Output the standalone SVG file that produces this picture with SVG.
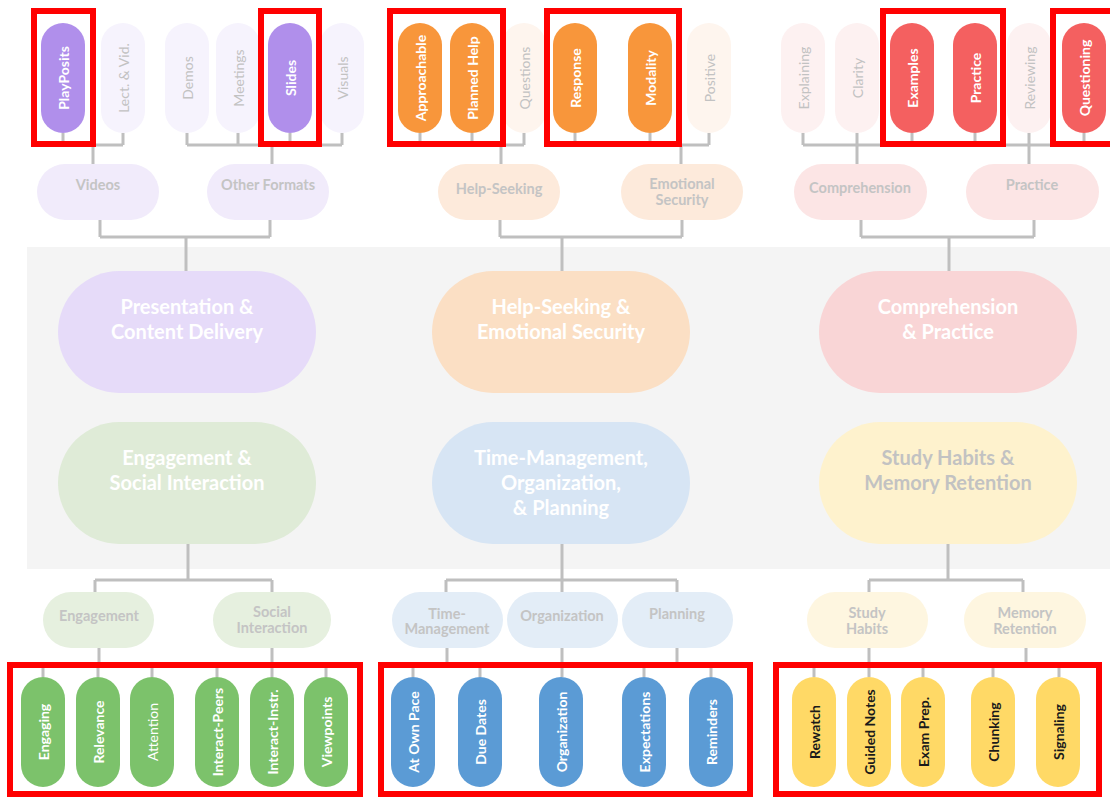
<svg xmlns="http://www.w3.org/2000/svg" width="1110" height="798" viewBox="0 0 1110 798">
  <style>
    .ln { stroke: #BFBFBF; stroke-width: 3; fill: none; }
    .hl { fill: none; stroke: #FF0000; stroke-width: 6; }
    text { font-family: Lato, "Open Sans", "Liberation Sans", sans-serif; text-anchor: middle; dominant-baseline: central; }
    .vt { font-size: 14px; font-weight: 700; fill: #FFFFFF; }
    .vt.dark { fill: #1A1A1A; }
    .vt.faint { font-weight: 400; fill: #C2C2C2; }
    .vt.thin { font-weight: 400; }
    .mt { font-size: 14.5px; font-weight: 700; fill: #C4C4C4; }
    .bt { font-size: 20px; font-weight: 700; fill: #FFFFFF; }
    .bt.grey { fill: #C2C2C2; }
    .pu { fill: #B08FEB; } .pu1 { fill: #F6F3FD; } .pu2 { fill: #F1EBFB; } .pu3 { fill: #E6DBF9; }
    .or { fill: #F8963B; } .or1 { fill: #FEF5EE; } .or2 { fill: #FDEADB; } .or3 { fill: #FBDFC4; }
    .rd { fill: #F46060; } .rd1 { fill: #FDF1F1; } .rd2 { fill: #FCE5E5; } .rd3 { fill: #F9D5D6; }
    .gr { fill: #7CC26B; } .gr2 { fill: #E6F0DF; } .gr3 { fill: #DFEBD7; }
    .bl { fill: #5B9BD5; } .bl2 { fill: #E3EDF7; } .bl3 { fill: #D7E5F4; }
    .ye { fill: #FFD966; } .ye2 { fill: #FEF6E0; } .ye3 { fill: #FEF2CD; }
  </style>

  <!-- band behind the six theme nodes -->
  <rect x="27" y="247" width="1083" height="322" fill="#F4F4F4"/>

  <!-- connectors -->
  <g id="connectors" class="ln">
    <!-- top leaves to sub-themes -->
    <path d="M63 133V145M123 133V145M63 145H123M93 145V164"/>
    <path d="M187 133V145M238 133V145M290 133V145M342 133V145M187 145H342M272 145V164"/>
    <path d="M420 133V145M472 133V145M524 133V145M420 145H524M501 145V164"/>
    <path d="M575 133V145M650 133V145M709 133V145M575 145H709M681 145V164"/>
    <path d="M803 133V145M857 133V145M912 133V145M803 145H912M857 145V164"/>
    <path d="M975 133V145M1029 133V145M1084 133V145M975 145H1084M1029 145V164"/>
    <!-- sub-themes to top themes -->
    <path d="M100 220V237M270 220V237M100 237H270M186 237V271"/>
    <path d="M500 220V237M682 220V237M500 237H682M562 237V271"/>
    <path d="M861 220V237M1034 220V237M861 237H1034M949 237V271"/>
    <!-- bottom themes to sub-themes -->
    <path d="M188 544V580M95 580H272M95 580V592M272 580V592"/>
    <path d="M562 544V592M446 580H677M446 580V592M677 580V592"/>
    <path d="M948 544V580M869 580H1023M869 580V592M1023 580V592"/>
    <!-- sub-themes to bottom leaves -->
    <path d="M99 648V665M43 665H152M43 665V677M98 665V677M152 665V677"/>
    <path d="M272 648V665M217 665H326M217 665V677M272 665V677M326 665V677"/>
    <path d="M447 648V665M413 665H480M413 665V677M480 665V677"/>
    <path d="M562 648V677"/>
    <path d="M677 648V665M644 665H711M644 665V677M711 665V677"/>
    <path d="M869 648V665M814 665H923M814 665V677M869 665V677M923 665V677"/>
    <path d="M1026 648V665M993 665H1059M993 665V677M1059 665V677"/>
  </g>

  <!-- top leaves -->
  <g id="playposits"><rect class="pu" x="41" y="23" width="44" height="110" rx="22"/><text class="vt" transform="translate(63 78) rotate(-90)">PlayPosits</text></g>
  <g id="lect-vid"><rect class="pu1" x="101" y="23" width="44" height="110" rx="22"/><text class="vt faint" transform="translate(123 78) rotate(-90)">Lect. &amp; Vid.</text></g>
  <g id="demos"><rect class="pu1" x="165" y="23" width="44" height="110" rx="22"/><text class="vt faint" transform="translate(187 78) rotate(-90)">Demos</text></g>
  <g id="meetings"><rect class="pu1" x="216" y="23" width="44" height="110" rx="22"/><text class="vt faint" transform="translate(238 78) rotate(-90)">Meetings</text></g>
  <g id="slides"><rect class="pu" x="268" y="23" width="44" height="110" rx="22"/><text class="vt" transform="translate(290 78) rotate(-90)">Slides</text></g>
  <g id="visuals"><rect class="pu1" x="320" y="23" width="44" height="110" rx="22"/><text class="vt faint" transform="translate(342 78) rotate(-90)">Visuals</text></g>

  <g id="approachable"><rect class="or" x="398" y="23" width="44" height="110" rx="22"/><text class="vt" transform="translate(420 78) rotate(-90)">Approachable</text></g>
  <g id="planned-help"><rect class="or" x="450" y="23" width="44" height="110" rx="22"/><text class="vt" transform="translate(472 78) rotate(-90)">Planned Help</text></g>
  <g id="questions"><rect class="or1" x="502" y="23" width="44" height="110" rx="22"/><text class="vt faint" transform="translate(524 78) rotate(-90)">Questions</text></g>
  <g id="response"><rect class="or" x="553" y="23" width="44" height="110" rx="22"/><text class="vt" transform="translate(575 78) rotate(-90)">Response</text></g>
  <g id="modality"><rect class="or" x="628" y="23" width="44" height="110" rx="22"/><text class="vt" transform="translate(650 78) rotate(-90)">Modality</text></g>
  <g id="positive"><rect class="or1" x="687" y="23" width="44" height="110" rx="22"/><text class="vt faint" transform="translate(709 78) rotate(-90)">Positive</text></g>

  <g id="explaining"><rect class="rd1" x="781" y="23" width="44" height="110" rx="22"/><text class="vt faint" transform="translate(803 78) rotate(-90)">Explaining</text></g>
  <g id="clarity"><rect class="rd1" x="835" y="23" width="44" height="110" rx="22"/><text class="vt faint" transform="translate(857 78) rotate(-90)">Clarity</text></g>
  <g id="examples"><rect class="rd" x="890" y="23" width="44" height="110" rx="22"/><text class="vt" transform="translate(912 78) rotate(-90)">Examples</text></g>
  <g id="practice-leaf"><rect class="rd" x="953" y="23" width="44" height="110" rx="22"/><text class="vt" transform="translate(975 78) rotate(-90)">Practice</text></g>
  <g id="reviewing"><rect class="rd1" x="1007" y="23" width="44" height="110" rx="22"/><text class="vt faint" transform="translate(1029 78) rotate(-90)">Reviewing</text></g>
  <g id="questioning"><rect class="rd" x="1062" y="23" width="44" height="110" rx="22"/><text class="vt" transform="translate(1084 78) rotate(-90)">Questioning</text></g>

  <!-- top sub-themes -->
  <g id="videos"><rect class="pu2" x="37" y="164" width="122" height="56" rx="28"/><text class="mt" x="98" y="184">Videos</text></g>
  <g id="other-formats"><rect class="pu2" x="207" y="164" width="122" height="56" rx="28"/><text class="mt" x="268" y="184">Other Formats</text></g>
  <g id="help-seeking"><rect class="or2" x="438" y="164" width="122" height="56" rx="28"/><text class="mt" x="499" y="188">Help-Seeking</text></g>
  <g id="emotional-security"><rect class="or2" x="621" y="164" width="122" height="56" rx="28"/><text class="mt" x="682" y="183.5">Emotional<tspan x="682" dy="15">Security</tspan></text></g>
  <g id="comprehension"><rect class="rd2" x="794" y="164" width="133" height="56" rx="28"/><text class="mt" x="860" y="187">Comprehension</text></g>
  <g id="practice-sub"><rect class="rd2" x="966" y="164" width="133" height="56" rx="28"/><text class="mt" x="1032" y="184">Practice</text></g>

  <!-- themes -->
  <g id="presentation"><rect class="pu3" x="58" y="271" width="258" height="122" rx="61"/><text class="bt" x="187" y="306">Presentation &amp;<tspan x="187" dy="25">Content Delivery</tspan></text></g>
  <g id="help-emotional"><rect class="or3" x="432" y="271" width="258" height="122" rx="61"/><text class="bt" x="561" y="306">Help-Seeking &amp;<tspan x="561" dy="25">Emotional Security</tspan></text></g>
  <g id="comprehension-practice"><rect class="rd3" x="819" y="271" width="258" height="122" rx="61"/><text class="bt" x="948" y="306">Comprehension<tspan x="948" dy="25">&amp; Practice</tspan></text></g>
  <g id="engagement-social"><rect class="gr3" x="58" y="422" width="258" height="122" rx="61"/><text class="bt" x="187" y="457">Engagement &amp;<tspan x="187" dy="25">Social Interaction</tspan></text></g>
  <g id="time-org-planning"><rect class="bl3" x="432" y="422" width="258" height="122" rx="61"/><text class="bt" x="561" y="457">Time-Management,<tspan x="561" dy="25">Organization,</tspan><tspan x="561" dy="25">&amp; Planning</tspan></text></g>
  <g id="study-memory"><rect class="ye3" x="819" y="422" width="258" height="122" rx="61"/><text class="bt grey" x="948" y="457">Study Habits &amp;<tspan x="948" dy="25">Memory Retention</tspan></text></g>

  <!-- bottom sub-themes -->
  <g id="engagement"><rect class="gr2" x="43" y="592" width="111" height="56" rx="28"/><text class="mt" x="99" y="615">Engagement</text></g>
  <g id="social-interaction"><rect class="gr2" x="213" y="592" width="118" height="56" rx="28"/><text class="mt" x="272" y="611.5">Social<tspan x="272" dy="15">Interaction</tspan></text></g>
  <g id="time-management"><rect class="bl2" x="392" y="592" width="111" height="56" rx="28"/><text class="mt" x="447" y="613">Time-<tspan x="447" dy="15">Management</tspan></text></g>
  <g id="organization-sub"><rect class="bl2" x="507" y="592" width="111" height="56" rx="28"/><text class="mt" x="562" y="615">Organization</text></g>
  <g id="planning"><rect class="bl2" x="622" y="592" width="111" height="56" rx="28"/><text class="mt" x="677" y="613">Planning</text></g>
  <g id="study-habits"><rect class="ye2" x="807" y="592" width="121" height="56" rx="28"/><text class="mt" x="867" y="612.5">Study<tspan x="867" dy="15">Habits</tspan></text></g>
  <g id="memory-retention"><rect class="ye2" x="964" y="592" width="122" height="56" rx="28"/><text class="mt" x="1025" y="612.5">Memory<tspan x="1025" dy="15">Retention</tspan></text></g>

  <!-- bottom leaves -->
  <g id="engaging"><rect class="gr" x="21" y="677" width="44" height="110" rx="22"/><text class="vt" transform="translate(43 732) rotate(-90)">Engaging</text></g>
  <g id="relevance"><rect class="gr" x="76" y="677" width="44" height="110" rx="22"/><text class="vt" transform="translate(98 732) rotate(-90)">Relevance</text></g>
  <g id="attention"><rect class="gr" x="130" y="677" width="44" height="110" rx="22"/><text class="vt thin" transform="translate(152 732) rotate(-90)">Attention</text></g>
  <g id="interact-peers"><rect class="gr" x="195" y="677" width="44" height="110" rx="22"/><text class="vt" transform="translate(217 732) rotate(-90)">Interact-Peers</text></g>
  <g id="interact-instr"><rect class="gr" x="250" y="677" width="44" height="110" rx="22"/><text class="vt" transform="translate(272 732) rotate(-90)">Interact-Instr.</text></g>
  <g id="viewpoints"><rect class="gr" x="304" y="677" width="44" height="110" rx="22"/><text class="vt" transform="translate(326 732) rotate(-90)">Viewpoints</text></g>

  <g id="at-own-pace"><rect class="bl" x="391" y="677" width="44" height="110" rx="22"/><text class="vt" transform="translate(413 732) rotate(-90)">At Own Pace</text></g>
  <g id="due-dates"><rect class="bl" x="458" y="677" width="44" height="110" rx="22"/><text class="vt" transform="translate(480 732) rotate(-90)">Due Dates</text></g>
  <g id="organization-leaf"><rect class="bl" x="539" y="677" width="44" height="110" rx="22"/><text class="vt" transform="translate(561 732) rotate(-90)">Organization</text></g>
  <g id="expectations"><rect class="bl" x="622" y="677" width="44" height="110" rx="22"/><text class="vt" transform="translate(644 732) rotate(-90)">Expectations</text></g>
  <g id="reminders"><rect class="bl" x="689" y="677" width="44" height="110" rx="22"/><text class="vt" transform="translate(711 732) rotate(-90)">Reminders</text></g>

  <g id="rewatch"><rect class="ye" x="792" y="677" width="44" height="110" rx="22"/><text class="vt dark" transform="translate(814 732) rotate(-90)">Rewatch</text></g>
  <g id="guided-notes"><rect class="ye" x="847" y="677" width="44" height="110" rx="22"/><text class="vt dark" transform="translate(869 732) rotate(-90)">Guided Notes</text></g>
  <g id="exam-prep"><rect class="ye" x="901" y="677" width="44" height="110" rx="22"/><text class="vt dark" transform="translate(923 732) rotate(-90)">Exam Prep.</text></g>
  <g id="chunking"><rect class="ye" x="971" y="677" width="44" height="110" rx="22"/><text class="vt dark" transform="translate(993 732) rotate(-90)">Chunking</text></g>
  <g id="signaling"><rect class="ye" x="1036" y="677" width="44" height="110" rx="22"/><text class="vt dark" transform="translate(1058 732) rotate(-90)">Signaling</text></g>

  <!-- highlight frames -->
  <g id="highlights" class="hl">
    <rect x="34" y="11" width="59" height="133"/>
    <rect x="261" y="11" width="58" height="133"/>
    <rect x="390" y="11" width="113" height="133"/>
    <rect x="547" y="11" width="132" height="133"/>
    <rect x="883" y="11" width="120" height="133"/>
    <rect x="1053" y="11" width="80" height="133"/>
    <rect x="10" y="665" width="350" height="129"/>
    <rect x="381" y="665" width="369" height="129"/>
    <rect x="776" y="665" width="323" height="129"/>
  </g>
</svg>
